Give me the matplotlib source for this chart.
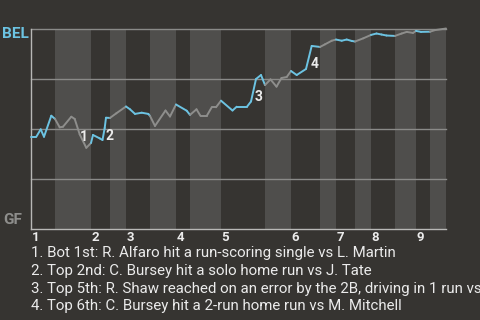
import matplotlib
matplotlib.use('Agg')
import matplotlib.pyplot as plt
from matplotlib.collections import LineCollection
import numpy as np

# ── Data ─────────────────────────────────────────────────────────────────────
# game progress (arbitrary units) and BEL win probability (%)
PROG = [0, 5.3, 9.7, 13, 20.3, 24, 28.7, 32, 40.3, 43.7, 48.7, 55.3, 60,
        62, 68.7, 71.5, 73.7, 75, 79, 85.3, 95, 99, 104, 110.7, 117.3, 119,
        124, 134.5, 139, 145, 155.7, 159, 165.5, 169.5, 175.7, 180.7, 185, 190,
        201.5, 205.7, 216, 220, 225, 230, 234, 239.5, 245.5, 250.5, 255.7, 260,
        265.7, 275, 280.7, 289, 294, 300.7, 305, 310.7, 315.7, 320.7, 324,
        332.3, 340, 345.5, 350.5, 355.5, 364, 370.7, 375.7, 382, 385, 390, 399,
        404, 412.5, 415]
WP = [46.0, 46.0, 49.7, 46.0, 56.5, 54.9, 50.7, 51.0, 56.0, 54.9, 47.2, 40.5, 42.9,
      46.9, 45.2, 44.4, 50.4, 55.5, 55.4, 57.7, 61.1, 59.7, 57.4, 58.0, 57.4, 56.4,
      51.4, 59.1, 56.1, 62.1, 59.0, 56.9, 59.7, 56.4, 56.4, 60.7, 60.7, 64.0,
      59.1, 61.0, 61.0, 63.6, 74.8, 76.8, 71.8, 74.6, 71.0, 75.3, 75.8, 78.8,
      76.8, 79.8, 91.3, 90.8, 92.1, 93.9, 94.5, 93.9, 94.5, 93.8, 93.5,
      95.1, 96.8, 97.5, 97.0, 96.5, 96.3, 97.5, 98.3, 97.8, 98.8, 98.3, 98.4,
      99.2, 99.8, 100.0]

# start of each half-inning, plus the end of the game
HALF_START = [0, 24, 60, 79, 95, 119, 145, 159, 190, 234, 260, 289, 305, 324,
              340, 364, 385, 399, 415]
INNINGS = ['1', '2', '3', '4', '5', '6', '7', '8', '9']

# key plays: marker position on chart
EVENT_NUM = ['1', '2', '3', '4']
EVENT_PROG = [53.3, 78.3, 227.8, 283.5]
EVENT_WP = [45.9, 46.6, 66.0, 82.5]
EVENT_TEXT = [
    '1. Bot 1st: R. Alfaro hit a run-scoring single vs L. Martin',
    '2. Top 2nd: C. Bursey hit a solo home run vs J. Tate',
    '3. Top 5th: R. Shaw reached on an error by the 2B, driving in 1 run vs',
    '4. Top 6th: C. Bursey hit a 2-run home run vs M. Mitchell',
]

# ── Palette ──────────────────────────────────────────────────────────────────
BG = '#363431'
BAND_LITE = '#4f4e4c'
BLUE = '#6cc3e2'
GRAY = '#8e8e8c'
GRID = '#8a8a88'
SPINE = '#b8b8b6'
TEXT = '#ebebeb'

plt.rcParams['font.family'] = ['Roboto', 'DejaVu Sans']

fig = plt.figure(figsize=(4.8, 3.2), dpi=100)
fig.patch.set_facecolor(BG)
ax = fig.add_axes([31 / 480, 91 / 320, 415 / 480, 200.5 / 320])
ax.set_facecolor(BG)
ax.set_xlim(HALF_START[0], HALF_START[-1])
ax.set_ylim(0, 100)

# alternating half-inning bands (bottom halves shaded)
for i in range(len(HALF_START) - 1):
    if i % 2 == 1:
        ax.axvspan(HALF_START[i], HALF_START[i + 1], color=BAND_LITE, lw=0, zorder=0)

for y in [25, 50, 75, 100]:
    ax.axhline(y, color=GRID, lw=1, zorder=1, clip_on=False)

# win probability line, blue while BEL bats (top halves)
x = np.array(PROG)
y = np.array(WP)
segs = np.stack([np.column_stack([x[:-1], y[:-1]]),
                 np.column_stack([x[1:], y[1:]])], axis=1)
mids = (x[:-1] + x[1:]) / 2
half_idx = np.searchsorted(HALF_START, mids, side='right') - 1
cols = [BLUE if h % 2 == 0 else GRAY for h in half_idx]
ax.add_collection(LineCollection(segs, colors=cols, linewidths=1.4, zorder=3,
                                 capstyle='round', joinstyle='round', clip_on=False))

for num, ex, ey in zip(EVENT_NUM, EVENT_PROG, EVENT_WP):
    ax.text(ex, ey, num, ha='center', va='center', fontsize=10,
            fontweight='bold', color=TEXT, zorder=4)

for s in ['top', 'right']:
    ax.spines[s].set_visible(False)
for s in ['left', 'bottom']:
    ax.spines[s].set_color(SPINE)
    ax.spines[s].set_linewidth(1)
ax.set_xticks([])
ax.set_yticks([])

# inning numbers at the start of each top half
for k, lab in enumerate(INNINGS):
    ax.text(HALF_START[2 * k] + 0.5, -1.2, lab, ha='left', va='top',
            fontsize=9.5, fontweight='bold', color=TEXT)

fig.text(2 / 480, 1 - 34 / 320, 'BEL', ha='left', va='center', fontsize=11,
         fontweight='bold', color=BLUE)
fig.text(3 / 480, 1 - 219.5 / 320, 'GF', ha='left', va='center', fontsize=11,
         fontweight='bold', color=GRAY)

for j, line in enumerate(EVENT_TEXT):
    fig.text(31 / 480, 1 - (253.3 + j * 17.7) / 320, line, ha='left', va='center',
             fontsize=10.85, color=TEXT)

fig.savefig('out.png', dpi=100, facecolor=BG)
